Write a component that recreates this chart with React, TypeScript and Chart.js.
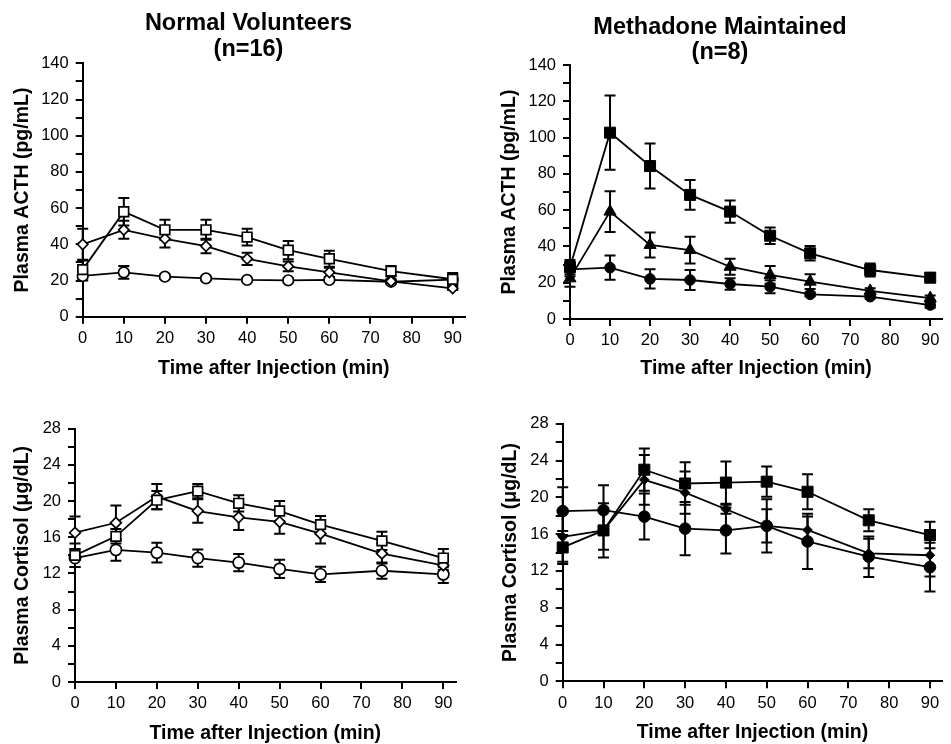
import React, { useEffect, useRef } from 'react';
import { Chart, registerables } from 'chart.js';

Chart.register(...registerables);

const FONT = '"Liberation Sans", Arial, Helvetica, sans-serif';

// ---------- shared axes ----------
const timePoints = [0, 10, 20, 30, 40, 50, 60, 75, 90];
const timeTicks = [0, 10, 20, 30, 40, 50, 60, 70, 80, 90];
const timeAxisMax = 93;
const acthTicks = [0, 10, 20, 30, 40, 50, 60, 70, 80, 90, 100, 110, 120, 130, 140];
const acthLabels = [0, 20, 40, 60, 80, 100, 120, 140];
const cortisolTicks = [0, 2, 4, 6, 8, 10, 12, 14, 16, 18, 20, 22, 24, 26, 28];
const cortisolLabels = [0, 4, 8, 12, 16, 20, 24, 28];

// ---------- Normal volunteers, ACTH ----------
const nvActhSquare = [26, 58, 48, 48, 44, 36.8, 32, 25.2, 20.7];
const nvActhSquareErr = [5, 7.6, 5.5, 5.5, 4.6, 5, 4.4, 2.8, 3.5];
const nvActhDiamond = [40, 48, 43, 39, 32, 27.8, 24.5, 19.5, 15.7];
const nvActhDiamondErr = [8.6, 5, 4.8, 4, 3.4, 2.7, 2.5, 1.2, 1];
const nvActhCircle = [22.5, 24.5, 22.1, 21.2, 20.3, 20.1, 20.3, 19.3, 20.5];
const nvActhCircleErr = [2.5, 3.5, 1.2, 1, 1, 1, 1, 1, 1];

// ---------- Methadone maintained, ACTH ----------
const mmActhSquare = [28.5, 102.7, 84.3, 68.4, 59.2, 45.9, 36.2, 27, 22.8];
const mmActhSquareErr = [4, 20.5, 12.4, 8.2, 6.1, 4.6, 4, 3.6, 2.5];
const mmActhTriangle = [22.4, 59.2, 40.8, 38, 28.8, 24.3, 20.6, 15.5, 11.5];
const mmActhTriangleErr = [4.6, 11.2, 6.9, 7.4, 4.4, 4.9, 4.1, 1.5, 1.5];
const mmActhCircle = [27.4, 28.3, 22.1, 21.5, 19.3, 17.8, 13.6, 12.3, 7.7];
const mmActhCircleErr = [4, 6.7, 5.3, 5.5, 3.2, 3.6, 1, 1, 1.5];

// ---------- Normal volunteers, cortisol ----------
const nvCortSquare = [14.0, 16.1, 20.1, 21.1, 19.75, 18.9, 17.4, 15.6, 13.7];
const nvCortSquareErr = [1.3, 0.8, 1.0, 0.8, 0.9, 1.1, 0.95, 1.0, 1.0];
const nvCortDiamond = [16.5, 17.6, 20.5, 18.9, 18.2, 17.7, 16.4, 14.2, 12.9];
const nvCortDiamondErr = [1.8, 1.9, 1.4, 1.3, 1.4, 1.3, 1.1, 1.1, 0.5];
const nvCortCircle = [13.7, 14.6, 14.3, 13.7, 13.2, 12.5, 11.9, 12.3, 11.9];
const nvCortCircleErr = [1.0, 1.2, 1.1, 0.95, 0.95, 1.0, 0.85, 0.9, 0.95];

// ---------- Methadone maintained, cortisol ----------
const mmCortSquare = [14.55, 16.4, 23.0, 21.5, 21.6, 21.7, 20.6, 17.5, 15.9];
const mmCortSquareErr = [1.8, 2.95, 2.3, 2.3, 2.3, 1.65, 1.9, 1.2, 1.45];
const mmCortDiamond = [15.7, 16.4, 21.9, 20.5, 18.7, 16.9, 16.45, 13.9, 13.7];
const mmCortDiamondErr = [2.7, 2.1, 2.7, 2.3, 0.5, 1.8, 1.45, 1.6, 2.3];
const mmCortCircle = [18.5, 18.6, 17.9, 16.6, 16.4, 16.9, 15.2, 13.55, 12.4];
const mmCortCircleErr = [2.6, 2.7, 2.5, 2.9, 2.5, 2.9, 3.0, 2.2, 2.65];

// ---------- styles ----------
type Series = {
  label: string;
  values: number[];
  errors: number[];
  shape: string;
  filled: boolean;
  radius: number;
};

type PanelSpec = {
  left: number;
  top: number;
  width: number;
  height: number;
  pad: { top: number; left: number; right: number; bottom: number };
  yWidth: number;
  xHeight: number;
  yTitlePad: number;
  xTitlePad: number;
  yMax: number;
  yTicks: number[];
  yLabels: number[];
  yTitle: string;
  title?: { lines: string[]; x: number; y: number[] };
  series: Series[];
};

const panels: PanelSpec[] = [
  {
    left: 0, top: 0, width: 480, height: 400,
    pad: { top: 63.3, left: 0, right: 15, bottom: 0 },
    yWidth: 82.7, xHeight: 83.3, yTitlePad: 10.8, xTitlePad: 19.3,
    yMax: 140, yTicks: acthTicks, yLabels: acthLabels, yTitle: 'Plasma ACTH (pg/mL)',
    title: { lines: ['Normal Volunteers', '(n=16)'], x: 248.5, y: [23.7, 49.1] },
    series: [
      { label: 'Square', values: nvActhSquare, errors: nvActhSquareErr, shape: 'rect', filled: false, radius: 6.8 },
      { label: 'Diamond', values: nvActhDiamond, errors: nvActhDiamondErr, shape: 'rectRot', filled: false, radius: 5.2 },
      { label: 'Circle', values: nvActhCircle, errors: nvActhCircleErr, shape: 'circle', filled: false, radius: 5.3 },
    ],
  },
  {
    left: 470, top: 0, width: 481, height: 400,
    pad: { top: 65, left: 0, right: 0.6, bottom: 0 },
    yWidth: 100, xHeight: 81, yTitlePad: 28.3, xTitlePad: 19.3,
    yMax: 140, yTicks: acthTicks, yLabels: acthLabels, yTitle: 'Plasma ACTH (pg/mL)',
    title: { lines: ['Methadone Maintained', '(n=8)'], x: 250, y: [27.2, 53] },
    series: [
      { label: 'Square', values: mmActhSquare, errors: mmActhSquareErr, shape: 'rect', filled: true, radius: 7.8 },
      { label: 'Triangle', values: mmActhTriangle, errors: mmActhTriangleErr, shape: 'triangle', filled: true, radius: 7 },
      { label: 'Circle', values: mmActhCircle, errors: mmActhCircleErr, shape: 'circle', filled: true, radius: 5.3 },
    ],
  },
  {
    left: 0, top: 372, width: 470, height: 380,
    pad: { top: 56.7, left: 0, right: 14.4, bottom: 0 },
    yWidth: 75, xHeight: 70, yTitlePad: 11.3, xTitlePad: 6.6,
    yMax: 28, yTicks: cortisolTicks, yLabels: cortisolLabels, yTitle: 'Plasma Cortisol (\u03BCg/dL)',
    series: [
      { label: 'Square', values: nvCortSquare, errors: nvCortSquareErr, shape: 'rect', filled: false, radius: 6.8 },
      { label: 'Diamond', values: nvCortDiamond, errors: nvCortDiamondErr, shape: 'rectRot', filled: false, radius: 5.4 },
      { label: 'Circle', values: nvCortCircle, errors: nvCortCircleErr, shape: 'circle', filled: false, radius: 5.6 },
    ],
  },
  {
    left: 470, top: 372, width: 481, height: 380,
    pad: { top: 51.7, left: 0, right: 0.2, bottom: 0 },
    yWidth: 92.7, xHeight: 70.7, yTitlePad: 29.1, xTitlePad: 7.6,
    yMax: 28, yTicks: cortisolTicks, yLabels: cortisolLabels, yTitle: 'Plasma Cortisol (\u03BCg/dL)',
    series: [
      { label: 'Square', values: mmCortSquare, errors: mmCortSquareErr, shape: 'rect', filled: true, radius: 7.8 },
      { label: 'Circle', values: mmCortCircle, errors: mmCortCircleErr, shape: 'circle', filled: true, radius: 5.8 },
      { label: 'Diamond', values: mmCortDiamond, errors: mmCortDiamondErr, shape: 'rectRot', filled: true, radius: 4.8 },
    ],
  },
];

// ---------- plugins ----------
const errorBarPlugin = {
  id: 'errorBars',
  beforeDatasetsDraw(chart: any) {
    const { ctx } = chart;
    const xs = chart.scales.x;
    const ys = chart.scales.y;
    ctx.save();
    ctx.strokeStyle = '#000';
    ctx.lineWidth = 2;
    ctx.lineCap = 'butt';
    chart.data.datasets.forEach((ds: any) => {
      if (!ds.errors) return;
      ds.data.forEach((p: any, i: number) => {
        const e = ds.errors[i];
        if (!e) return;
        const px = xs.getPixelForValue(p.x);
        const yt = ys.getPixelForValue(p.y + e);
        const yb = ys.getPixelForValue(p.y - e);
        const cw = 5.5;
        ctx.beginPath();
        ctx.moveTo(px, yt);
        ctx.lineTo(px, yb);
        ctx.moveTo(px - cw, yt);
        ctx.lineTo(px + cw, yt);
        ctx.moveTo(px - cw, yb);
        ctx.lineTo(px + cw, yb);
        ctx.stroke();
      });
    });
    ctx.restore();
  },
};

function makeTitlePlugin(title?: { lines: string[]; x: number; y: number[] }) {
  return {
    id: 'panelTitle',
    afterDraw(chart: any) {
      if (!title) return;
      const ctx = chart.ctx;
      ctx.save();
      ctx.fillStyle = '#000';
      ctx.font = `bold 23.5px ${FONT}`;
      ctx.textAlign = 'center';
      ctx.textBaseline = 'middle';
      title.lines.forEach((line, i) => ctx.fillText(line, title.x, title.y[i]));
      ctx.restore();
    },
  };
}

function Panel({ spec }: { spec: PanelSpec }) {
  const ref = useRef<HTMLCanvasElement>(null);
  useEffect(() => {
    const canvas = ref.current;
    if (!canvas) return;
    const config: any = {
      type: 'line',
      data: {
        datasets: spec.series.map((s) => ({
          label: s.label,
          data: timePoints.map((t, i) => ({ x: t, y: s.values[i] })),
          errors: s.errors,
          borderColor: '#000',
          borderWidth: 1.8,
          pointStyle: s.shape,
          pointRadius: s.radius,
          pointHoverRadius: s.radius,
          pointBackgroundColor: s.filled ? '#000' : '#fff',
          pointBorderColor: '#000',
          pointBorderWidth: s.filled ? 1 : 1.7,
          fill: false,
          tension: 0,
          clip: false,
        })),
      },
      options: {
        animation: false,
        responsive: false,
        devicePixelRatio: 1,
        events: [],
        layout: { padding: spec.pad },
        plugins: {
          legend: { display: false },
          tooltip: { enabled: false },
          title: { display: false },
        },
        scales: {
          x: {
            type: 'linear',
            position: 'bottom',
            min: 0,
            max: timeAxisMax,
            bounds: 'data',
            afterBuildTicks: (sc: any) => {
              sc.ticks = timeTicks.map((v) => ({ value: v }));
            },
            afterFit: (sc: any) => {
              sc.height = spec.xHeight;
            },
            grid: { drawOnChartArea: false, drawTicks: true, tickLength: 7, color: '#000', lineWidth: 2 },
            border: { display: true, color: '#000', width: 2 },
            ticks: {
              color: '#000',
              font: { family: FONT, size: 16.5 },
              padding: 5,
              autoSkip: false,
              maxRotation: 0,
              callback: (v: any) => String(v),
            },
            title: {
              display: true,
              text: 'Time after Injection (min)',
              color: '#000',
              font: { family: FONT, size: 19.5, weight: 'bold' },
              padding: { top: 0, bottom: spec.xTitlePad },
            },
          },
          y: {
            type: 'linear',
            position: 'left',
            min: 0,
            max: spec.yMax,
            bounds: 'data',
            afterBuildTicks: (sc: any) => {
              sc.ticks = spec.yTicks.map((v) => ({ value: v }));
            },
            afterFit: (sc: any) => {
              sc.width = spec.yWidth;
            },
            grid: { drawOnChartArea: false, drawTicks: true, tickLength: 7, color: '#000', lineWidth: 2 },
            border: { display: true, color: '#000', width: 2 },
            ticks: {
              color: '#000',
              font: { family: FONT, size: 16.5 },
              padding: 7,
              autoSkip: false,
              callback: (v: any) => (spec.yLabels.includes(Number(v)) ? String(v) : ''),
            },
            title: {
              display: true,
              text: spec.yTitle,
              color: '#000',
              font: { family: FONT, size: 19.5, weight: 'bold' },
              padding: { top: spec.yTitlePad, bottom: 0 },
            },
          },
        },
      },
      plugins: [errorBarPlugin, makeTitlePlugin(spec.title)],
    };
    const chart = new Chart(canvas, config);
    return () => chart.destroy();
  }, [spec]);

  return (
    <canvas
      ref={ref}
      width={spec.width}
      height={spec.height}
      style={{
        position: 'absolute',
        left: spec.left,
        top: spec.top,
        width: spec.width,
        height: spec.height,
      }}
    />
  );
}

export default function App() {
  return (
    <div
      style={{
        position: 'absolute',
        left: 0,
        top: 0,
        width: 951,
        height: 744,
        overflow: 'hidden',
        background: '#fff',
      }}
    >
      {panels.map((p, i) => (
        <Panel key={i} spec={p} />
      ))}
    </div>
  );
}
